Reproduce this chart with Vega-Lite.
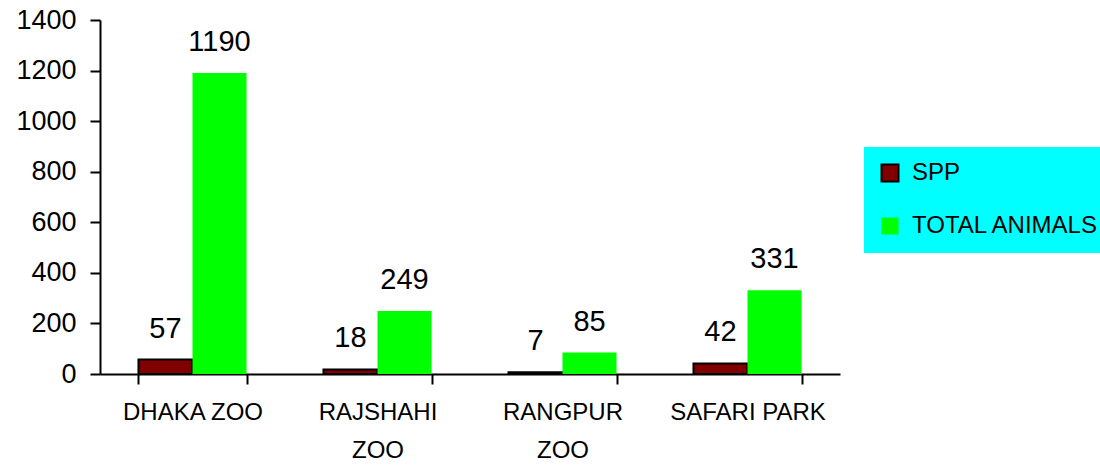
{
  "$schema": "https://vega.github.io/schema/vega-lite/v6.json",
  "width": 740,
  "height": 354,
  "autosize": {"type": "none"},
  "padding": {"left": 100, "top": 20, "right": 260, "bottom": 98},
  "background": "white",
  "config": {
    "view": {"stroke": null},
    "font": "Liberation Sans",
    "legend": {
      "title": null,
      "orient": "none",
      "legendX": 764,
      "legendY": 127,
      "fillColor": "#00FFFF",
      "padding": 14,
      "labelFontSize": 24,
      "labelLimit": 400,
      "labelColor": "black",
      "symbolType": "square",
      "symbolSize": 289,
      "symbolStrokeWidth": 2,
      "rowPadding": 27,
      "labelOffset": 10
    }
  },
  "data": {
    "values": [
      {"zoo": "DHAKA ZOO", "series": "SPP", "value": 57},
      {"zoo": "DHAKA ZOO", "series": "TOTAL ANIMALS", "value": 1190},
      {"zoo": "RAJSHAHI ZOO", "series": "SPP", "value": 18},
      {"zoo": "RAJSHAHI ZOO", "series": "TOTAL ANIMALS", "value": 249},
      {"zoo": "RANGPUR ZOO", "series": "SPP", "value": 7},
      {"zoo": "RANGPUR ZOO", "series": "TOTAL ANIMALS", "value": 85},
      {"zoo": "SAFARI PARK", "series": "SPP", "value": 42},
      {"zoo": "SAFARI PARK", "series": "TOTAL ANIMALS", "value": 331}
    ]
  },
  "encoding": {
    "x": {
      "field": "zoo",
      "type": "nominal",
      "sort": null,
      "scale": {"paddingInner": 0.416, "paddingOuter": 0.208},
      "axis": {
        "title": null,
        "labelAngle": 0,
        "tickBand": "extent",
        "domainColor": "black",
        "domainWidth": 2,
        "tickColor": "black",
        "tickWidth": 2,
        "tickSize": 10,
        "labelFontSize": 24,
        "labelColor": "black",
        "labelPadding": 16,
        "labelLineHeight": 38,
        "labelLimit": 300,
        "labelExpr": "datum.value == 'RAJSHAHI ZOO' || datum.value == 'RANGPUR ZOO' ? split(datum.value, ' ') : datum.value"
      }
    },
    "xOffset": {
      "field": "series",
      "type": "nominal",
      "sort": ["SPP", "TOTAL ANIMALS"],
      "scale": {"paddingInner": 0, "paddingOuter": 0}
    },
    "y": {
      "field": "value",
      "type": "quantitative",
      "scale": {"domain": [0, 1400]},
      "axis": {
        "title": null,
        "format": "d",
        "values": [0, 200, 400, 600, 800, 1000, 1200, 1400],
        "grid": false,
        "domainColor": "black",
        "domainWidth": 2,
        "tickColor": "black",
        "tickWidth": 2,
        "tickSize": 10,
        "labelFontSize": 27,
        "labelColor": "black",
        "labelPadding": 14
      }
    }
  },
  "layer": [
    {
      "mark": {"type": "bar", "strokeWidth": 2},
      "encoding": {
        "color": {
          "field": "series",
          "type": "nominal",
          "sort": ["SPP", "TOTAL ANIMALS"],
          "scale": {"domain": ["SPP", "TOTAL ANIMALS"], "range": ["#800000", "#00FF00"]}
        },
        "stroke": {
          "field": "series",
          "type": "nominal",
          "sort": ["SPP", "TOTAL ANIMALS"],
          "scale": {"domain": ["SPP", "TOTAL ANIMALS"], "range": ["black", "transparent"]}
        }
      }
    },
    {
      "mark": {"type": "text", "baseline": "alphabetic", "dy": -22, "fontSize": 29, "color": "black"},
      "encoding": {"text": {"field": "value", "type": "quantitative"}}
    }
  ]
}
